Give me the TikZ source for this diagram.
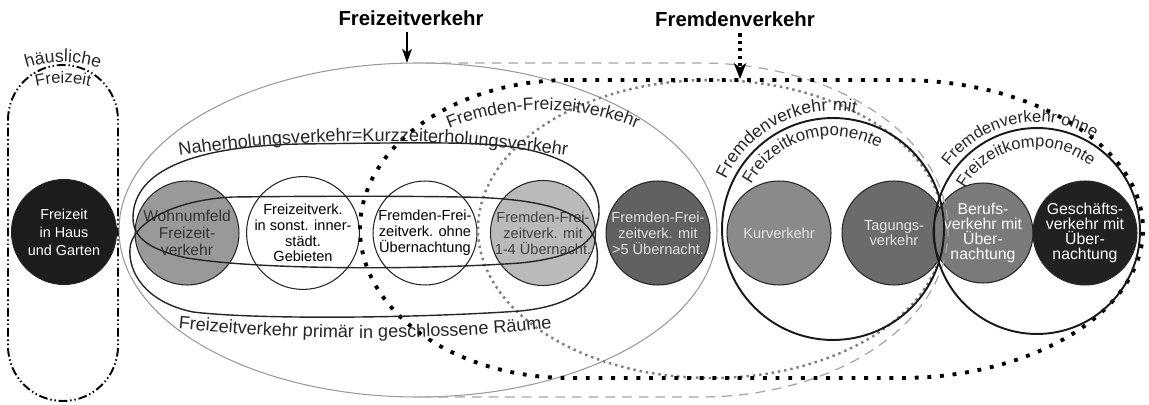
\documentclass[tikz,border=0pt]{standalone}
\usepackage{fontspec}
\setmainfont{Liberation Sans}
\usetikzlibrary{arrows.meta,decorations.text}
\newcommand\cirfont{\fontsize{8.3}{9}\selectfont}
\newcommand\wohnfont{\fontsize{8.9}{9.6}\selectfont}
\newcommand\rcirfont{\fontsize{9}{8.4}\selectfont}
\newcommand\hausfont{\fontsize{8.2}{10.2}\selectfont}
\newcommand\titlefont{\bfseries\fontsize{11.6}{13}\selectfont}
\newcommand\lblA{\fontsize{10.3}{12}\selectfont}
\newcommand\lblB{\fontsize{10}{12}\selectfont}
\newcommand\lblC{\fontsize{9.6}{12}\selectfont}
\newcommand\lblD{\fontsize{9.4}{12}\selectfont}
\begin{document}
\begin{tikzpicture}[x=0.02cm,y=-0.02cm,
  bub/.style={circle,draw=black!85,line width=0.6pt,minimum size=2.08cm,inner sep=0pt,align=center,font=\cirfont},
  big/.style={circle,draw=black!90,line width=1.1pt,inner sep=0pt},
  loopline/.style={draw=black!85,line width=0.8pt},
  curvlbl/.style={decorate,decoration={text along path,text align=center,text color=black!85,text={#1}}},
]
\useasboundingbox (0,0) rectangle (1149,405);

% home stadium
\draw[line width=1.1pt,dash pattern=on 5pt off 1.6pt on 0.8pt off 1.6pt on 0.8pt off 1.6pt]
  (8,120) arc[start angle=180,end angle=360,radius=55] -- (118,346)
  arc[start angle=0,end angle=180,radius=55] -- cycle;

% bubbles
\node[bub,fill=black!89,text=white,font=\hausfont,minimum size=2.1cm] (haus) at (64,232) {Freizeit\\in Haus\\und Garten};
\node[bub,fill=black!40,text=black!80,font=\wohnfont] (wohn) at (187,233) {Wohnumfeld\\Freizeit-\\verkehr};
\node[bub,fill=white] (innen) at (303,233) {Freizeitverk.\\in sonst. inner-\\städt.\\Gebieten};
\node[bub,fill=white] (ohne) at (425,233) {Fremden-Frei-\\zeitverk. ohne\\Übernachtung};
\node[bub,fill=black!27,text=black!75] (eins) at (543,233) {Fremden-Frei-\\zeitverk. mit\\1-4 Übernacht.};
\node[bub,fill=black!62,text=black!12] (fuenf) at (658,233) {Fremden-Frei-\\zeitverk. mit\\>5 Übernacht.};
\node[bub,fill=black!46,text=black!10] (kur) at (779,233) {Kurverkehr};
\node[bub,fill=black!58,text=black!10] (tag) at (894,233) {Tagungs-\\verkehr};
\node[bub,fill=black!52,text=white,font=\rcirfont,minimum size=2.0cm] (beruf) at (983,233) {Berufs-\\verkehr mit\\Über-\\nachtung};
\node[bub,fill=black!87,text=white,font=\rcirfont] (gesch) at (1085,233) {Geschäfts-\\verkehr mit\\Über-\\nachtung};

% Freizeitverkehr region
\draw[black!40,line width=0.6pt] (418,230) ellipse[x radius=299,y radius=167];
\draw[black!35,line width=0.7pt,dash pattern=on 5.5pt off 4pt]
  (425,63) -- (700,63) arc[start angle=-90,end angle=90,x radius=248,y radius=167] -- (425,397);
% Fremden-Freizeitverkehr
\draw[black!50,line width=1.4pt,dash pattern=on 1.4pt off 2.2pt] (711,229) ellipse[x radius=233,y radius=149];
% Fremdenverkehr
\draw[black,line width=2.2pt,dash pattern=on 2.2pt off 5pt]
  (570,80) -- (900,80) arc[start angle=-90,end angle=90,x radius=243,y radius=149]
  -- (570,378) arc[start angle=90,end angle=270,x radius=210,y radius=149] -- cycle;

% loops
\draw[loopline] (133,218) .. controls (133,168) and (200,146) .. (300,144)
  .. controls (380,143) and (440,142) .. (480,144)
  .. controls (570,148) and (600,180) .. (599,212)
  .. controls (598,245) and (570,258) .. (520,263)
  .. controls (420,270) and (260,270) .. (187,258)
  .. controls (150,250) and (133,238) .. cycle;
\draw[loopline] (233,197) .. controls (320,196) and (400,196) .. (460,197)
  .. controls (540,198) and (585,210) .. (595,240)
  .. controls (605,275) and (585,305) .. (520,311)
  .. controls (420,318) and (260,320) .. (193,312)
  .. controls (145,302) and (128,272) .. (130,248)
  .. controls (132,225) and (170,200) .. cycle;

% big circles
\node[big,minimum size=4.44cm] (fmit) at (833,229) {};
\node[big,minimum size=4.12cm] (fohne) at (1037,231) {};

% curved labels
\path[curvlbl={|\lblB|häusliche}] (63,180) ++(-115:118) arc[start angle=-115,end angle=-65,radius=118];
\path[curvlbl={|\lblD|Freizeit}] (63,200) ++(-112:117) arc[start angle=-112,end angle=-68,radius=117];
\path[curvlbl={|\lblA|Naherholungsverkehr=Kurzzeiterholungsverkehr}] (373,1416) ++(-105:1275) arc[start angle=-105,end angle=-75,radius=1275];
\path[curvlbl={|\lblA|Freizeitverkehr primär in geschlossene Räume}] (365,-1472) ++(97:1810) arc[start angle=97,end angle=83,radius=1810];
\path[curvlbl={|\lblB|Fremden-Freizeitverkehr}] (543,360) ++(-125:250) arc[start angle=-125,end angle=-55,radius=250];
\path[curvlbl={|\lblB|Fremdenverkehr mit}] (fmit.center) ++(-167:118) arc[start angle=-167,end angle=-67,radius=118];
\path[curvlbl={|\lblC|Freizeitkomponente}] (fmit.center) ++(-156:93) arc[start angle=-156,end angle=-56,radius=93];
\path[curvlbl={|\lblD|Fremdenverkehr ohne}] (fohne.center) ++(-151:109) arc[start angle=-151,end angle=-51,radius=109];
\path[curvlbl={|\lblD|Freizeitkomponente}] (fohne.center) ++(-155:84) arc[start angle=-155,end angle=-45,radius=84];

% titles and arrows
\node[font=\titlefont,anchor=base] (t1) at (411,26) {Freizeitverkehr};
\node[font=\titlefont,anchor=base] (t2) at (735,27) {Fremdenverkehr};
\coordinate (a1) at (407,63);
\coordinate (a2) at (740,79);
\draw[line width=1.1pt,-{Stealth[length=8pt,width=5.5pt,inset=2pt]}] (t1.south -| a1) -- (a1);
\draw[line width=1.8pt,dash pattern=on 1.8pt off 2.4pt,-{Stealth[length=9pt,width=7pt,inset=2.5pt]}] (t2.south -| a2) -- (a2);
\end{tikzpicture}
\end{document}
